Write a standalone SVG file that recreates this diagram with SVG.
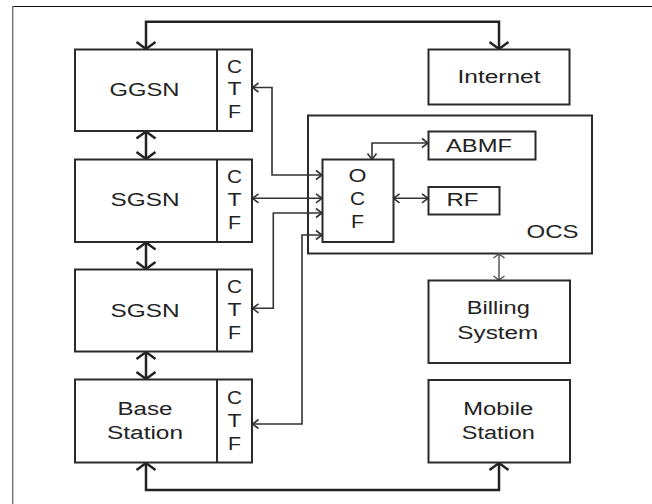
<svg xmlns="http://www.w3.org/2000/svg" width="652" height="504" viewBox="0 0 652 504">
<defs>
<marker id="ah" viewBox="-12 -12 24 24" refX="0" refY="0" markerWidth="24" markerHeight="24" markerUnits="userSpaceOnUse" orient="auto-start-reverse">
<path d="M-7,-9.5 L0,0 L-7,9.5" fill="none" stroke="#222" stroke-width="2.5"/>
</marker>
<marker id="as" viewBox="-10 -10 20 20" refX="0" refY="0" markerWidth="20" markerHeight="20" markerUnits="userSpaceOnUse" orient="auto-start-reverse">
<path d="M-6,-4.5 L0,0 L-6,4.5" fill="none" stroke="#333" stroke-width="1.6"/>
</marker>
<marker id="ab" viewBox="-10 -10 20 20" refX="0" refY="0" markerWidth="20" markerHeight="20" markerUnits="userSpaceOnUse" orient="auto-start-reverse">
<path d="M-4,-5.5 L0,0 L-4,5.5" fill="none" stroke="#555" stroke-width="1.5"/>
</marker>
</defs>
<style>
.box{fill:#fff;stroke:#2a2a2a;stroke-width:2}
.div{stroke:#2a2a2a;stroke-width:2}
.t{font-family:"Liberation Sans",Arial,sans-serif;font-size:18px;fill:#222;text-anchor:middle}
.thick{fill:none;stroke:#222;stroke-width:2.5;marker-start:url(#ah);marker-end:url(#ah)}
.thin{fill:none;stroke:#333;stroke-width:1.6;marker-start:url(#as);marker-end:url(#as)}
.bill{fill:none;stroke:#555;stroke-width:1.5;marker-start:url(#ab);marker-end:url(#ab)}
</style>
<rect width="652" height="504" fill="#fff"/>
<line x1="12" y1="6.5" x2="652" y2="6.5" stroke="#111" stroke-width="1.2"/>
<line x1="12.7" y1="6" x2="12.7" y2="504" stroke="#777" stroke-width="1.5"/>

<g id="ocs">
<rect class="box" x="308" y="115.5" width="284" height="138"/>
<text class="t" x="552.5" y="238.3" textLength="52" lengthAdjust="spacingAndGlyphs">OCS</text>
</g>

<g id="connectors">
<path class="thick" d="M146,49 V21.7 H499 V49"/>
<path class="thick" d="M146,463 V490 H499 V463"/>
<path class="thick" d="M146,131.5 V159"/>
<path class="thick" d="M146,242.5 V269"/>
<path class="thick" d="M146,352 V379"/>
<path class="thin" d="M252.5,87.5 H272 V175 H322"/>
<path class="thin" d="M252.5,198.3 H322"/>
<path class="thin" d="M252.5,308.3 H273.3 V213 H322"/>
<path class="thin" d="M252.5,424 H302 V235 H322"/>
<path class="thin" d="M372,159.5 V143 H428"/>
<path class="thin" d="M393.5,198.3 H428"/>
<path class="bill" d="M499,254 V280"/>
</g>

<g id="ggsn">
<rect class="box" x="75" y="49.5" width="177" height="81.5"/>
<line class="div" x1="217" y1="49.5" x2="217" y2="131"/>
<text class="t" x="144.5" y="96" textLength="70" lengthAdjust="spacingAndGlyphs">GGSN</text>
<text class="t" x="234.5" y="72.7" textLength="15" lengthAdjust="spacingAndGlyphs">C</text>
<text class="t" x="234.5" y="95" textLength="14" lengthAdjust="spacingAndGlyphs">T</text>
<text class="t" x="234.5" y="118.3" textLength="13" lengthAdjust="spacingAndGlyphs">F</text>
</g>

<g id="sgsn1">
<rect class="box" x="75" y="159.5" width="177" height="82.5"/>
<line class="div" x1="217" y1="159.5" x2="217" y2="242"/>
<text class="t" x="145" y="206" textLength="69" lengthAdjust="spacingAndGlyphs">SGSN</text>
<text class="t" x="234.5" y="182.9" textLength="15" lengthAdjust="spacingAndGlyphs">C</text>
<text class="t" x="234.5" y="205.5" textLength="14" lengthAdjust="spacingAndGlyphs">T</text>
<text class="t" x="234.5" y="228.5" textLength="13" lengthAdjust="spacingAndGlyphs">F</text>
</g>

<g id="sgsn2">
<rect class="box" x="75" y="269.5" width="177" height="82"/>
<line class="div" x1="217" y1="269.5" x2="217" y2="351.5"/>
<text class="t" x="145" y="316.5" textLength="69" lengthAdjust="spacingAndGlyphs">SGSN</text>
<text class="t" x="234.5" y="293" textLength="15" lengthAdjust="spacingAndGlyphs">C</text>
<text class="t" x="234.5" y="316" textLength="14" lengthAdjust="spacingAndGlyphs">T</text>
<text class="t" x="234.5" y="339" textLength="13" lengthAdjust="spacingAndGlyphs">F</text>
</g>

<g id="base-station">
<rect class="box" x="75" y="379.5" width="177" height="83"/>
<line class="div" x1="217" y1="379.5" x2="217" y2="462.5"/>
<text class="t" x="145" y="415" textLength="55" lengthAdjust="spacingAndGlyphs">Base</text>
<text class="t" x="145" y="439" textLength="76" lengthAdjust="spacingAndGlyphs">Station</text>
<text class="t" x="234.5" y="404" textLength="15" lengthAdjust="spacingAndGlyphs">C</text>
<text class="t" x="234.5" y="427" textLength="14" lengthAdjust="spacingAndGlyphs">T</text>
<text class="t" x="234.5" y="449.5" textLength="13" lengthAdjust="spacingAndGlyphs">F</text>
</g>

<g id="internet">
<rect class="box" x="428.5" y="49.5" width="141" height="55"/>
<text class="t" x="499" y="83" textLength="83" lengthAdjust="spacingAndGlyphs">Internet</text>
</g>

<g id="ocf">
<rect class="box" x="322.5" y="159.5" width="71" height="82.5"/>
<text class="t" x="357.5" y="181.7" textLength="18" lengthAdjust="spacingAndGlyphs">O</text>
<text class="t" x="357.5" y="205" textLength="15" lengthAdjust="spacingAndGlyphs">C</text>
<text class="t" x="357.5" y="228.3" textLength="13" lengthAdjust="spacingAndGlyphs">F</text>
</g>

<g id="abmf">
<rect class="box" x="428.5" y="131.5" width="107" height="28"/>
<text class="t" x="479" y="151.7" textLength="66" lengthAdjust="spacingAndGlyphs">ABMF</text>
</g>

<g id="rf">
<rect class="box" x="428.5" y="187" width="71" height="27.5"/>
<text class="t" x="462.5" y="206" textLength="32" lengthAdjust="spacingAndGlyphs">RF</text>
</g>

<g id="billing-system">
<rect class="box" x="428.5" y="280.5" width="141.5" height="82.5"/>
<text class="t" x="498.3" y="314" textLength="63" lengthAdjust="spacingAndGlyphs">Billing</text>
<text class="t" x="497.8" y="338.5" textLength="81" lengthAdjust="spacingAndGlyphs">System</text>
</g>

<g id="mobile-station">
<rect class="box" x="428.5" y="380" width="141.5" height="82.5"/>
<text class="t" x="498.3" y="415" textLength="70" lengthAdjust="spacingAndGlyphs">Mobile</text>
<text class="t" x="498.3" y="438.5" textLength="73" lengthAdjust="spacingAndGlyphs">Station</text>
</g>
</svg>
